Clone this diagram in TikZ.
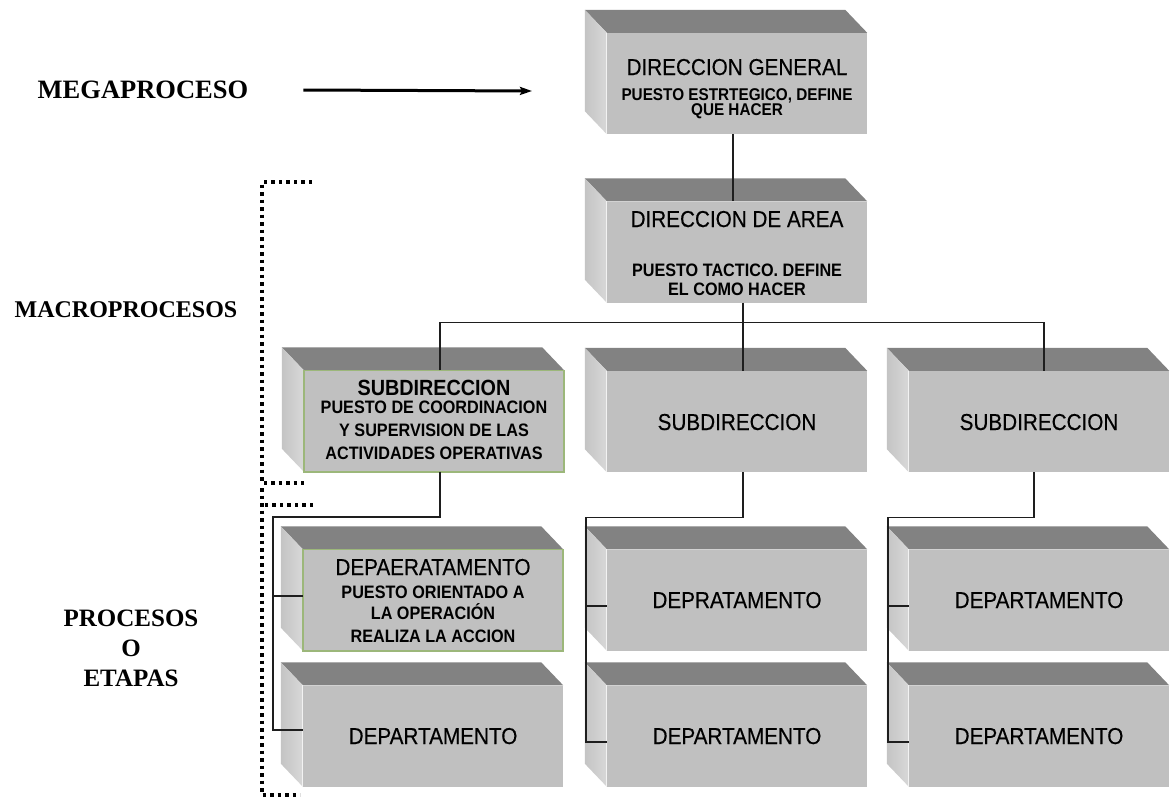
\documentclass[tikz,border=0pt]{standalone}
\usepackage{fontspec}
\usepackage{graphicx}
\setmainfont{Liberation Serif}
\newfontfamily\boxfont[FakeStretch=0.9]{Liberation Sans}
\newfontfamily\titlefont[FakeStretch=0.9,FakeBold=0.35]{Liberation Sans}
\usetikzlibrary{calc,arrows.meta}

\definecolor{frontgray}{HTML}{C0C0C0}
\definecolor{topgray}{HTML}{828282}
\definecolor{sidedark}{HTML}{C4C4C4}
\definecolor{sidelight}{HTML}{D8D8D8}
\definecolor{edgegreen}{HTML}{9CB77A}
\definecolor{wire}{HTML}{1E1E1E}

\tikzset{
  boxfront/.style={fill=frontgray, draw=none, minimum width=260pt, minimum height=101pt, inner sep=0pt},
  highlight/.style={draw=white!80!frontgray, line width=1.2pt},
  greenedge/.style={draw=edgegreen, line width=1.6pt},
  boxtitle/.style={anchor=base, inner sep=0pt, font=\titlefont\fontsize{23}{25}\selectfont},
  boxnote/.style={anchor=base, inner sep=0pt, font=\boxfont\bfseries\fontsize{18}{20}\selectfont},
  levellabel/.style={inner sep=0pt, font=\bfseries\fontsize{25}{27}\selectfont},
  wireline/.style={draw=wire, line width=1.4pt},
  bracket/.style={draw=black, line width=3.2pt, dash pattern=on 3.5pt off 4pt},
  megaarrow/.style={draw=black, line width=3pt, -{Stealth[length=12pt,width=8pt,inset=2pt]}}
}

% a raised box: front face as a named node, with top and left faces behind it
\newcommand{\solidbox}[3][draw=none]{%
  \node[boxfront] (#2) at (#3) {};
  \fill[topgray] (#2.north west) -- ++(-22,-23) -- ($(#2.north east)+(-22,-23)$) -- (#2.north east) -- cycle;
  \shade[left color=sidedark, right color=sidelight] (#2.north west) -- ++(-22,-23) -- ($(#2.south west)+(-22,-23)$) -- (#2.south west) -- cycle;
  \draw[highlight] (#2.north west) -- (#2.south west);
  \draw[#1] (#2.north west) rectangle (#2.south east);
}

\begin{document}
\begin{tikzpicture}[x=1pt, y=-1pt]
\fill[white] (0,0) rectangle (1170,800);
\useasboundingbox (0,0) rectangle (1170,800);

% boxes
\solidbox{dg}{737,83.5}
\solidbox{da}{737,252}
\solidbox[greenedge]{s1}{434,421}
\solidbox{s2}{737,421.5}
\solidbox{s3}{1039,421.5}
\solidbox[greenedge]{d11}{433,600}
\solidbox{d12}{433,736}
\solidbox{d21}{737,600}
\solidbox{d22}{737,736}
\solidbox{d31}{1039,600}
\solidbox{d32}{1039,736}

% box texts
\node[boxtitle] (dg-t) at ($(dg.center)+(0,-8.5)$) {DIRECCION GENERAL};
\node[boxnote, font=\boxfont\bfseries\fontsize{17}{19}\selectfont] (dg-a) at ($(dg.center)+(0,16.5)$) {PUESTO ESTRTEGICO, DEFINE};
\node[boxnote, font=\boxfont\bfseries\fontsize{17}{19}\selectfont] (dg-b) at ($(dg.center)+(0,31.5)$) {QUE HACER};

\node[boxtitle] (da-t) at ($(da.center)+(0,-25)$) {DIRECCION DE AREA};
\node[boxnote] (da-a) at ($(da.center)+(0,24)$) {PUESTO TACTICO. DEFINE};
\node[boxnote] (da-b) at ($(da.center)+(0,43)$) {EL COMO HACER};

\node[boxtitle, font=\boxfont\bfseries\fontsize{22}{24}\selectfont] (s1-t) at ($(s1.center)+(0,-26)$) {SUBDIRECCION};
\node[boxnote] (s1-a) at ($(s1.center)+(0,-8)$) {PUESTO DE COORDINACION};
\node[boxnote] (s1-b) at ($(s1.center)+(0,15)$) {Y SUPERVISION DE LAS};
\node[boxnote] (s1-c) at ($(s1.center)+(0,38)$) {ACTIVIDADES OPERATIVAS};

\node[boxtitle] (s2-t) at ($(s2.center)+(0,8.5)$) {SUBDIRECCION};
\node[boxtitle] (s3-t) at ($(s3.center)+(0,8.5)$) {SUBDIRECCION};

\node[boxtitle] (d11-t) at ($(d11.center)+(0,-25)$) {DEPAERATAMENTO};
\node[boxnote] (d11-a) at ($(d11.center)+(0,-2)$) {PUESTO ORIENTADO A};
\node[boxnote] (d11-b) at ($(d11.center)+(0,19)$) {LA OPERACIÓN};
\node[boxnote] (d11-c) at ($(d11.center)+(0,42)$) {REALIZA LA ACCION};

\node[boxtitle] (d12-t) at ($(d12.center)+(0,8)$) {DEPARTAMENTO};
\node[boxtitle] (d21-t) at ($(d21.center)+(0,8)$) {DEPRATAMENTO};
\node[boxtitle] (d22-t) at ($(d22.center)+(0,8)$) {DEPARTAMENTO};
\node[boxtitle] (d31-t) at ($(d31.center)+(0,8)$) {DEPARTAMENTO};
\node[boxtitle] (d32-t) at ($(d32.center)+(0,8)$) {DEPARTAMENTO};

% hierarchy connectors
\draw[wireline] ([xshift=-4pt]dg.south) -- ([xshift=-4pt]da.north);
\draw[wireline] ([xshift=6pt]da.south) -- ([xshift=6pt]s2.north);
\draw[wireline] ([xshift=6pt]s1.north) -- ++(0,-48) -| ([xshift=5pt]s3.north);

\draw[wireline, line width=1.8pt] ([xshift=6pt]s1.south) -- ++(0,45) -| ([xshift=-30pt,yshift=6pt]d12.west) -- ([yshift=6pt]d12.west);
\draw[wireline, line width=1.8pt] ([xshift=-30pt,yshift=4pt]d11.west) -- ([yshift=4pt]d11.west);

\draw[wireline] ([xshift=6pt]s2.south) -- ++(0,45.5) -| ([xshift=-21pt,yshift=-6pt]d22.west) -- ([yshift=-6pt]d22.west);
\draw[wireline] ([xshift=-21pt,yshift=-6pt]d21.west) -- ([yshift=-6pt]d21.west);

\draw[wireline] ([xshift=-5pt]s3.south) -- ++(0,45) -| ([xshift=-21pt,yshift=-6pt]d32.west) -- ([yshift=-6pt]d32.west);
\draw[wireline] ([xshift=-21pt,yshift=-6pt]d31.west) -- ([yshift=-6pt]d31.west);

% level labels
\node[levellabel, font=\bfseries\fontsize{26.5}{28}\selectfont] (mega) at (143,90) {MEGAPROCESO};
\node[levellabel, font=\bfseries\fontsize{24}{26}\selectfont] (macro) at (126,310) {MACROPROCESOS};
\node[levellabel] (proc) at (131,618) {PROCESOS};
\node[levellabel] (proc-o) at (131,648) {O};
\node[levellabel] (etapas) at (131,678) {ETAPAS};

\coordinate (megatip) at (532,91);
\draw[megaarrow] ([xshift=55pt]mega.east) -- (megatip);

% dotted level brackets
\draw[bracket] (312,182) -| (262,483) -- (304,483);
\draw[bracket] (313,505) -- (262,505);
\draw[bracket] (262,488) -- (262,795) -- (300,795);
\end{tikzpicture}
\end{document}
